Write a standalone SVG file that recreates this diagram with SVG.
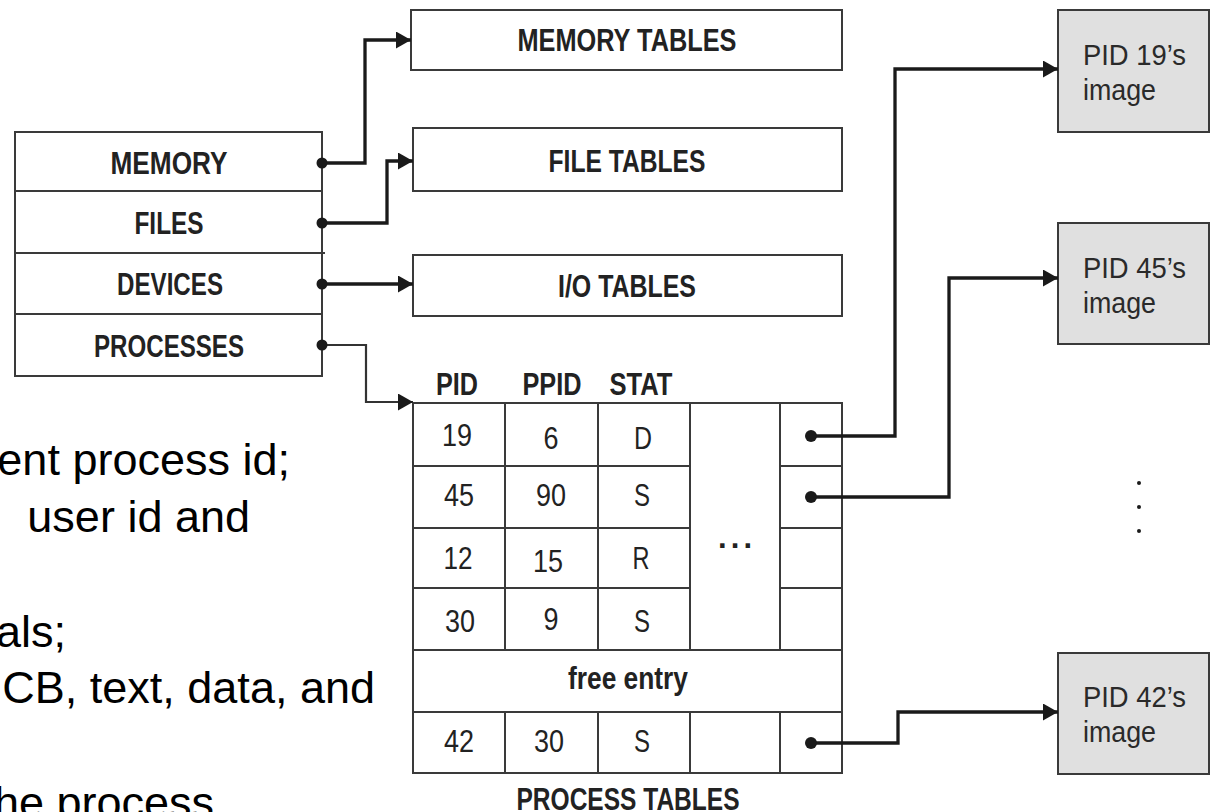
<svg xmlns="http://www.w3.org/2000/svg" width="1211" height="812" viewBox="0 0 1211 812">
<style>
.box{fill:#fff;stroke:#3a3a3a;stroke-width:2}
.img{fill:#e0e0e0;stroke:#3a3a3a;stroke-width:2}
.grid{fill:none;stroke:#3a3a3a;stroke-width:2}
.lbl{font-family:"Liberation Sans Narrow","Liberation Sans",Arial,sans-serif;font-weight:bold;font-size:31px;fill:#222;text-anchor:middle}
.cell{font-family:"Liberation Sans Narrow","Liberation Sans",Arial,sans-serif;font-size:32px;fill:#222;text-anchor:middle}
.itxt{font-family:"Liberation Sans Narrow","Liberation Sans",Arial,sans-serif;font-size:30px;fill:#2a2a2a}
.side{font-family:"Liberation Sans",Arial,sans-serif;font-size:45px;fill:#000;text-anchor:end}
.conn{fill:none;stroke:#1a1a1a;stroke-width:3.3}
.thin{fill:none;stroke:#333;stroke-width:2.2}
.dot{fill:#1a1a1a}
</style>
<defs>
<marker id="ah" markerUnits="userSpaceOnUse" markerWidth="16" markerHeight="18" refX="15" refY="8.5" orient="auto">
<path d="M0,0 L15,8.5 L0,17 Z" fill="#1a1a1a"/>
</marker>
</defs>

<g id="side-text">
<text class="side" x="290" y="475">ent process id;</text>
<text class="side" x="250" y="532">user id and</text>
<text class="side" x="66" y="647">als;</text>
<text class="side" x="375" y="703">CB, text, data, and</text>
<text class="side" x="214" y="818">he process</text>
</g>

<g id="kernel-table">
<rect class="box" x="15" y="132" width="307" height="244"/>
<line class="grid" x1="15" y1="191" x2="322" y2="191"/>
<line class="grid" x1="15" y1="253" x2="325" y2="253"/>
<line class="grid" x1="15" y1="314" x2="322" y2="314"/>
<text class="lbl" x="169" y="174" textLength="117" lengthAdjust="spacingAndGlyphs">MEMORY</text>
<text class="lbl" x="169" y="234" textLength="69" lengthAdjust="spacingAndGlyphs">FILES</text>
<text class="lbl" x="170" y="295" textLength="106" lengthAdjust="spacingAndGlyphs">DEVICES</text>
<text class="lbl" x="169" y="357" textLength="150" lengthAdjust="spacingAndGlyphs">PROCESSES</text>
</g>

<g id="memory-tables">
<rect class="box" x="411" y="10" width="431" height="60"/>
<text class="lbl" x="627" y="51" textLength="219" lengthAdjust="spacingAndGlyphs">MEMORY TABLES</text>
</g>
<g id="file-tables">
<rect class="box" x="413" y="128" width="429" height="63"/>
<text class="lbl" x="627" y="172" textLength="157" lengthAdjust="spacingAndGlyphs">FILE TABLES</text>
</g>
<g id="io-tables">
<rect class="box" x="413" y="255" width="429" height="61"/>
<text class="lbl" x="627" y="297" textLength="138" lengthAdjust="spacingAndGlyphs">I/O TABLES</text>
</g>

<g id="process-tables">
<text class="lbl" x="457" y="395" textLength="42" lengthAdjust="spacingAndGlyphs">PID</text>
<text class="lbl" x="552" y="395" textLength="59" lengthAdjust="spacingAndGlyphs">PPID</text>
<text class="lbl" x="641" y="395" textLength="63" lengthAdjust="spacingAndGlyphs">STAT</text>
<rect class="box" x="413" y="403" width="429" height="370"/>
<path class="grid" d="M505,403V650M505,712V773M598,403V650M598,712V773M690,403V650M690,712V773M780,403V650M780,712V773"/>
<path class="grid" d="M413,466H690M413,528H690M413,588H690M780,466H842M780,528H842M780,588H842M413,650H842M413,712H842"/>
<text class="cell" x="457" y="446" textLength="30" lengthAdjust="spacingAndGlyphs">19</text>
<text class="cell" x="551" y="449" textLength="15" lengthAdjust="spacingAndGlyphs">6</text>
<text class="cell" x="643" y="449" textLength="18" lengthAdjust="spacingAndGlyphs">D</text>
<text class="cell" x="459" y="506" textLength="30" lengthAdjust="spacingAndGlyphs">45</text>
<text class="cell" x="551" y="506" textLength="30" lengthAdjust="spacingAndGlyphs">90</text>
<text class="cell" x="642" y="506" textLength="16" lengthAdjust="spacingAndGlyphs">S</text>
<text class="cell" x="458" y="569" textLength="29" lengthAdjust="spacingAndGlyphs">12</text>
<text class="cell" x="548" y="572" textLength="30" lengthAdjust="spacingAndGlyphs">15</text>
<text class="cell" x="641" y="569" textLength="17" lengthAdjust="spacingAndGlyphs">R</text>
<text class="cell" x="460" y="632" textLength="30" lengthAdjust="spacingAndGlyphs">30</text>
<text class="cell" x="551" y="630" textLength="15" lengthAdjust="spacingAndGlyphs">9</text>
<text class="cell" x="642" y="632" textLength="16" lengthAdjust="spacingAndGlyphs">S</text>
<text class="lbl" x="735" y="548" textLength="34" lengthAdjust="spacing">...</text>
<text class="lbl" x="628" y="689" textLength="120" lengthAdjust="spacingAndGlyphs">free entry</text>
<text class="cell" x="459" y="752" textLength="30" lengthAdjust="spacingAndGlyphs">42</text>
<text class="cell" x="549" y="752" textLength="30" lengthAdjust="spacingAndGlyphs">30</text>
<text class="cell" x="642" y="752" textLength="16" lengthAdjust="spacingAndGlyphs">S</text>
<text class="lbl" x="628" y="810" textLength="223" lengthAdjust="spacingAndGlyphs">PROCESS TABLES</text>
</g>

<g id="pid19-image">
<rect class="img" x="1058" y="10" width="151" height="122"/>
<text class="itxt" x="1083" y="65" textLength="103" lengthAdjust="spacingAndGlyphs">PID 19’s</text>
<text class="itxt" x="1083" y="100" textLength="73" lengthAdjust="spacingAndGlyphs">image</text>
</g>
<g id="pid45-image">
<rect class="img" x="1058" y="223" width="151" height="121"/>
<text class="itxt" x="1083" y="278" textLength="103" lengthAdjust="spacingAndGlyphs">PID 45’s</text>
<text class="itxt" x="1083" y="313" textLength="73" lengthAdjust="spacingAndGlyphs">image</text>
</g>
<g id="pid42-image">
<rect class="img" x="1058" y="653" width="151" height="121"/>
<text class="itxt" x="1083" y="707" textLength="103" lengthAdjust="spacingAndGlyphs">PID 42’s</text>
<text class="itxt" x="1083" y="742" textLength="73" lengthAdjust="spacingAndGlyphs">image</text>
</g>
<g id="more-images">
<circle class="dot" cx="1139" cy="483" r="2"/>
<circle class="dot" cx="1139" cy="507" r="2"/>
<circle class="dot" cx="1139" cy="531" r="2"/>
</g>

<g id="connectors">
<path class="conn" d="M322,163H365V40H411" marker-end="url(#ah)"/>
<path class="conn" d="M322,223H387V161H413" marker-end="url(#ah)"/>
<path class="conn" d="M322,284H413" marker-end="url(#ah)"/>
<path class="thin" d="M322,345H366V402H413" marker-end="url(#ah)"/>
<path class="conn" d="M811,436H895V69H1058" marker-end="url(#ah)"/>
<path class="conn" d="M811,497H949V278H1058" marker-end="url(#ah)"/>
<path class="conn" d="M811,743H898V712H1058" marker-end="url(#ah)"/>
<circle class="dot" cx="322" cy="163" r="5.5"/>
<circle class="dot" cx="322" cy="223" r="5.5"/>
<circle class="dot" cx="322" cy="284" r="5.5"/>
<circle class="dot" cx="322" cy="345" r="5.5"/>
<circle class="dot" cx="811" cy="436" r="6"/>
<circle class="dot" cx="811" cy="497" r="6"/>
<circle class="dot" cx="811" cy="743" r="6"/>
</g>
</svg>
